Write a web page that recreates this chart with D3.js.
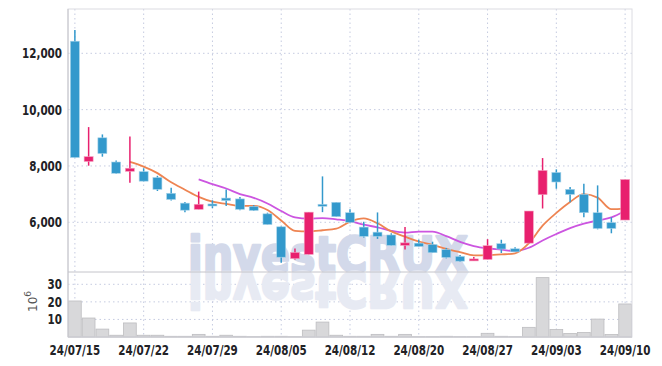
<!DOCTYPE html>
<html lang="ko">
<head>
<meta charset="UTF-8">
<title>candles</title>
<script src="https://cdn.jsdelivr.net/npm/d3@7"></script>
<style>
  body { margin: 0; background: #fff; }
  svg text { font-family: "DejaVu Sans", sans-serif; }
</style>
</head>
<body>
<svg width="662" height="366"></svg>
<script>
// trading days
var dates = ['24/07/15','24/07/16','24/07/17','24/07/18','24/07/19','24/07/22','24/07/23','24/07/24','24/07/25','24/07/26',
  '24/07/29','24/07/30','24/07/31','24/08/01','24/08/02','24/08/05','24/08/06','24/08/07','24/08/08','24/08/09',
  '24/08/12','24/08/13','24/08/14','24/08/16','24/08/19','24/08/20','24/08/21','24/08/22','24/08/23','24/08/26',
  '24/08/27','24/08/28','24/08/29','24/08/30','24/09/02','24/09/03','24/09/04','24/09/05','24/09/06','24/09/09','24/09/10'];

var opens  = [12430,8160,9000,8140,7810,7800,7590,7030,6680,6460, 6650,6860,6830,6560,6300,5840,4710,4860,6640,6710,
  6340,5830,5650,5550,5180,5260,5210,5030,4790,4640, 4680,5240,5060,5260,6980,7770,7170,6990,6340,5990,6080];
var highs  = [12830,9380,9120,8190,9050,7920,7650,7230,6720,7090, 6780,7160,6900,6610,6340,5860,5070,6360,7630,6710,
  6460,6020,6350,5610,5830,5380,5310,5090,4840,4770, 5400,5380,5110,6400,8280,7880,7250,7370,7310,6180,7520];
var lows   = [8300,8010,8330,7720,7400,7450,7110,6770,6360,6460, 6500,6580,6430,6400,5920,4560,4680,4860,6360,6200,
  5970,5460,5410,5170,5030,5140,4920,4720,4600,4640, 4680,4910,4950,5260,6490,7190,6710,6180,5750,5610,6080];
var closes = [8300,8330,8440,7740,7920,7460,7170,6810,6430,6640, 6610,6770,6460,6420,5920,4760,4930,6360,6620,6200,
  6000,5500,5500,5180,5270,5140,4920,4750,4620,4700, 5170,5050,4950,6400,7840,7430,6990,6340,5780,5780,7520];
// volume, millions of shares
var volumes = [20.5,10.8,4.5,1.0,8.0,1.0,1.0,0.4,0.4,1.5, 0.4,1.0,0.4,0.2,0.4,0.4,0.2,3.9,8.5,1.0,
  0.4,0.4,1.5,0.4,1.5,0.2,0.2,0.4,0.2,0.2, 2.1,0.4,0.2,5.5,33.8,4.3,2.0,2.6,10.2,1.4,18.8];
// moving averages (5 and 10 day), start at index 4 and 9
var ma5  = [8146,7978,7746,7420,7158,6902,6732,6652,6582,6580,6436,6066,5698,5678,5718,5774,6022,6136,5964,5676,
  5490,5318,5202,5052,4940,4826,4832,4858,4898,5254,5882,6334,6722,7000,6876,6464,6482];
var ma10 = [7524,7355,7199,7001,6869,6669,6399,6175,6130,6149,6105,6044,5917,5821,5697,5632,5670,5669,5508,5308,
  5158,5075,5030,4975,5097,5354,5583,5790,5949,6065,6173,6408];

var priceTicks = [6000, 8000, 10000, 12000];
var volTicks = [10, 20, 30];

var svg = d3.select('svg');
var pl = 68, pr = 632, pt = 9, pm = 272, pb = 337;

var x = d3.scaleBand().domain(d3.range(dates.length)).range([pl, pr]).padding(0);
var y = d3.scaleLinear().domain([4235, 13573]).range([pm, pt]);
var yv = d3.scaleLinear().domain([0, 37]).range([pb, pm]);
var cx = function (i) { return x(i) + x.bandwidth() / 2; };

var up = '#e8206e', down = '#3399cc', grid = '#c5cbe0';

// grid
var gx = svg.append('g');
gx.selectAll('line.v').data(d3.range(0, dates.length, 5)).enter().append('line')
  .attr('x1', cx).attr('x2', cx).attr('y1', pt).attr('y2', pb)
  .attr('stroke', grid).attr('stroke-dasharray', '1.5,3');
gx.selectAll('line.p').data(priceTicks).enter().append('line')
  .attr('x1', pl).attr('x2', pr).attr('y1', y).attr('y2', y)
  .attr('stroke', grid).attr('stroke-dasharray', '1.5,3');
gx.selectAll('line.q').data(volTicks).enter().append('line')
  .attr('x1', pl).attr('x2', pr).attr('y1', yv).attr('y2', yv)
  .attr('stroke', grid).attr('stroke-dasharray', '1.5,3');

// watermark + reflection
var wm = svg.append('g');
function mark(sel, fill, flip) {
  sel.append('text').attr('x', 188).attr('y', flip ? -pm : pm)
    .attr('transform', flip ? 'scale(1,-1)' : null)
    .attr('textLength', 280).attr('lengthAdjust', 'spacingAndGlyphs')
    .style('font-weight', 'bold').style('font-size', '50px')
    .attr('fill', fill).attr('stroke', fill).attr('stroke-width', 2.5).attr('stroke-linejoin', 'round')
    .text('investCRUX');
}
mark(wm, '#d3d9ea', false);
mark(wm, '#e7eaf3', true);

// volume bars
svg.append('g').selectAll('rect').data(volumes).enter().append('rect')
  .attr('x', function (d, i) { return x(i) + 0.5; })
  .attr('width', x.bandwidth() - 1)
  .attr('y', function (d) { return yv(d); })
  .attr('height', function (d) { return pb - yv(d); })
  .attr('fill', '#d8d8da').attr('stroke', '#bdbdc0').attr('stroke-width', 0.8);

// frame
svg.append('rect').attr('x', pl).attr('y', pt).attr('width', pr - pl).attr('height', pb - pt)
  .attr('fill', 'none').attr('stroke', '#dcdce2');
svg.append('line').attr('x1', pl).attr('x2', pl).attr('y1', pt).attr('y2', pb).attr('stroke', '#c4c4ca');
svg.append('line').attr('x1', pl).attr('x2', pr).attr('y1', pm).attr('y2', pm).attr('stroke', '#c4c4ca');
svg.append('line').attr('x1', pl).attr('x2', pr).attr('y1', pb).attr('y2', pb).attr('stroke', '#c4c4ca');

// moving averages
var line = d3.line().curve(d3.curveMonotoneX).x(function (d) { return cx(d[0]); }).y(function (d) { return y(d[1]); });
svg.append('path').datum(ma10.map(function (v, k) { return [k + 9, v]; }))
  .attr('d', line).attr('fill', 'none').attr('stroke', '#cc55e0').attr('stroke-width', 1.8);
svg.append('path').datum(ma5.map(function (v, k) { return [k + 4, v]; }))
  .attr('d', line).attr('fill', 'none').attr('stroke', '#ee8452').attr('stroke-width', 1.8);

// candles
var bw = 9;
var cg = svg.append('g').selectAll('g').data(dates).enter().append('g');
cg.append('line')
  .attr('x1', function (d, i) { return cx(i); }).attr('x2', function (d, i) { return cx(i); })
  .attr('y1', function (d, i) { return y(highs[i]); }).attr('y2', function (d, i) { return y(lows[i]); })
  .attr('stroke', function (d, i) { return closes[i] >= opens[i] ? up : down; }).attr('stroke-width', 1.5);
cg.append('rect')
  .attr('x', function (d, i) { return cx(i) - bw / 2; }).attr('width', bw)
  .attr('y', function (d, i) { return y(Math.max(opens[i], closes[i])); })
  .attr('height', function (d, i) { return Math.max(2, Math.abs(y(opens[i]) - y(closes[i]))); })
  .attr('fill', function (d, i) { return closes[i] >= opens[i] ? up : down; })
  .attr('stroke', function (d, i) { return closes[i] >= opens[i] ? '#f4a0c0' : '#a8d4ea'; }).attr('stroke-width', 0.6);

// axes labels (narrowed horizontally like the original condensed face)
var sx = 0.74;
var lab = svg.append('g').attr('fill', '#222226').style('font-weight', 'bold').style('font-size', '14px');
lab.selectAll('text.p').data(priceTicks).enter().append('text')
  .attr('transform', function (d) { return 'translate(62,' + (y(d) + 5) + ') scale(' + sx + ',1)'; })
  .attr('text-anchor', 'end')
  .text(d3.format(','));
lab.selectAll('text.v').data(volTicks).enter().append('text')
  .attr('transform', function (d) { return 'translate(62,' + (yv(d) + 5) + ') scale(' + sx + ',1)'; })
  .attr('text-anchor', 'end')
  .text(function (d) { return d; });
lab.selectAll('text.d').data(d3.range(0, dates.length, 5)).enter().append('text')
  .attr('transform', function (i) { return 'translate(' + cx(i) + ',355) scale(' + sx + ',1)'; })
  .attr('text-anchor', 'middle')
  .text(function (i) { return dates[i]; });

var unit = svg.append('text').attr('transform', 'translate(37,312) rotate(-90)')
  .attr('fill', '#555').style('font-size', '12px');
unit.append('tspan').text('10');
unit.append('tspan').attr('dy', -6).style('font-size', '9px').text('6');
</script>
</body>
</html>
